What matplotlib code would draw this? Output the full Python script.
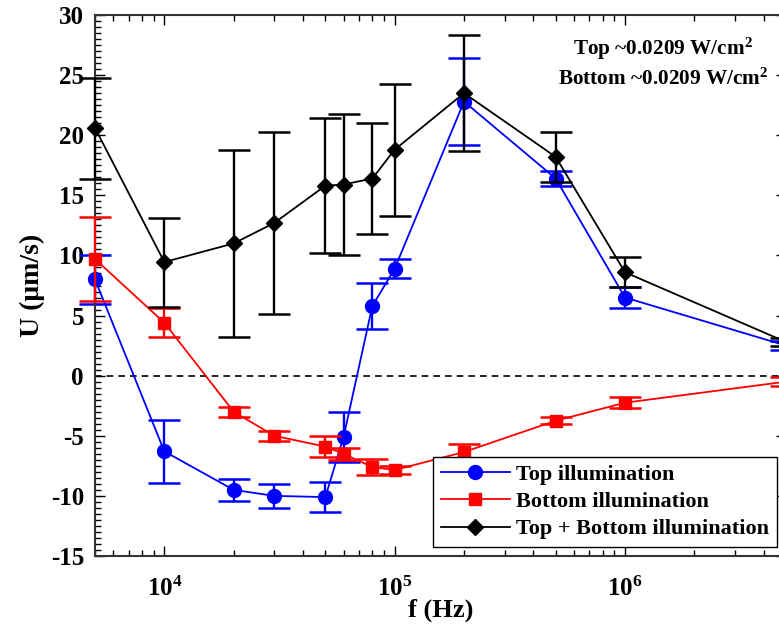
import matplotlib
matplotlib.use("Agg")
import matplotlib.pyplot as plt
from matplotlib.ticker import MultipleLocator, LogLocator, NullFormatter
import numpy as np

plt.rcParams['font.family'] = ['Liberation Serif', 'DejaVu Serif']
plt.rcParams['font.weight'] = 'bold'
plt.rcParams['axes.unicode_minus'] = False
plt.rcParams['mathtext.fontset'] = 'custom'
plt.rcParams['mathtext.rm'] = 'Liberation Serif:bold'
plt.rcParams['mathtext.bf'] = 'Liberation Serif:bold'
plt.rcParams['mathtext.it'] = 'Liberation Serif:bold'

freq = [5e3, 1e4, 2e4, 3e4, 5e4, 6e4, 8e4, 1e5, 2e5, 5e5, 1e6, 5e6]

top_u = [8.0, -6.3, -9.5, -10.0, -10.1, -5.1, 5.8, 8.9, 22.8, 16.4, 6.5, 2.5]
top_err = [2.0, 2.6, 0.9, 1.0, 1.25, 2.1, 1.9, 0.8, 3.6, 0.65, 0.85, 0.4]

bot_u = [9.7, 4.4, -3.0, -5.0, -5.9, -6.5, -7.6, -7.85, -6.35, -3.75, -2.25, -0.5]
bot_err = [3.5, 1.2, 0.4, 0.4, 0.85, 0.5, 0.7, 0.3, 0.7, 0.3, 0.45, 0.4]

both_u = [20.6, 9.45, 11.0, 12.7, 15.8, 15.9, 16.4, 18.8, 23.5, 18.2, 8.6, 2.8]
both_err = [4.2, 3.7, 7.8, 7.55, 5.6, 5.9, 4.65, 5.5, 4.85, 2.1, 1.25, 0.3]

labels = ['Top illumination', 'Bottom illumination', 'Top + Bottom illumination']

fig = plt.figure(figsize=(7.79, 6.37), dpi=100)
ax = fig.add_axes([95/779, 1 - 556/637, (786 - 95)/779, (556 - 15)/637])

ax.axhline(0, color='black', linestyle='--', linewidth=1.2, dashes=(4, 3), zorder=1)

series = [
    (top_u, top_err, 'blue', 'o', 10, labels[0]),
    (bot_u, bot_err, 'red', 's', 8, labels[1]),
    (both_u, both_err, 'black', 'D', 8, labels[2]),
]
handles = []
for i, (u, e, c, m, ms, lab) in enumerate(series):
    ax.errorbar(freq, u, yerr=e, fmt='none', ecolor=c, elinewidth=1.7,
                capsize=11.5, capthick=1.8, zorder=2 + i, clip_on=False)
    h, = ax.plot(freq, u, color=c, marker=m, markersize=ms, linewidth=1.3,
                 label=lab, zorder=2.5 + i, clip_on=False)
    handles.append(h)

ax.set_xscale('log')
ax.set_xlim(5e3, 5e6)
ax.set_ylim(-15, 30)
ax.yaxis.set_major_locator(MultipleLocator(5))
ax.yaxis.set_minor_locator(MultipleLocator(0.5))
ax.xaxis.set_major_locator(LogLocator(base=10, numticks=10))
ax.xaxis.set_minor_locator(LogLocator(base=10, subs=np.arange(2, 10), numticks=20))
ax.xaxis.set_minor_formatter(NullFormatter())

ax.tick_params(which='both', direction='in', top=True, right=True, width=1.0)
ax.tick_params(which='major', length=7, labelsize=18)
ax.tick_params(axis='y', which='major', pad=8)
ax.tick_params(axis='x', which='major', pad=15)
ax.tick_params(which='minor', length=4)
for lbl in ax.get_xticklabels() + ax.get_yticklabels():
    lbl.set_fontweight('bold')
for s in ax.spines.values():
    s.set_linewidth(1.5)
    s.set_color('#333333')

ax.set_xlabel('f (Hz)', fontsize=19, fontweight='bold', labelpad=-2)
ax.set_ylabel('U (μm/s)', fontsize=20, fontweight='bold', labelpad=4)

ax.text(0.822, 0.937, 'Top ~0.0209 W/cm$^{2}$', transform=ax.transAxes,
        ha='center', va='center', fontsize=15.3, fontweight='bold')
ax.text(0.822, 0.882, 'Bottom ~0.0209 W/cm$^{2}$', transform=ax.transAxes,
        ha='center', va='center', fontsize=15.3, fontweight='bold')

leg = ax.legend(handles=handles, loc='lower right', fontsize=16, frameon=True,
                fancybox=False, edgecolor='black', framealpha=1,
                handlelength=3.1, borderaxespad=0.4, labelspacing=0.3,
                handletextpad=0.3, borderpad=0.35)
leg.get_frame().set_linewidth(1.0)
for t in leg.get_texts():
    t.set_fontweight('bold')

fig.savefig('out.png', dpi=100)
